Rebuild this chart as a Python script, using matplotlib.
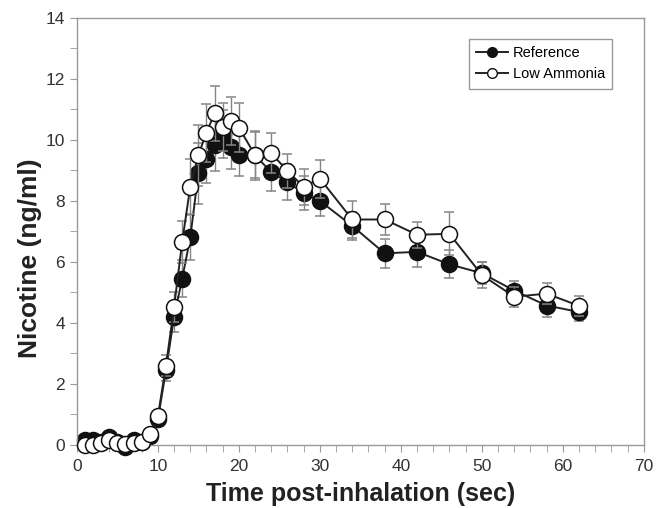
import numpy as np
import matplotlib.pyplot as plt
from matplotlib.lines import Line2D
from matplotlib.ticker import MultipleLocator

# data
time = [1, 2, 3, 4, 5, 6, 7, 8, 9, 10, 11, 12, 13, 14, 15, 16, 17, 18, 19, 20,
        22, 24, 26, 28, 30, 34, 38, 42, 46, 50, 54, 58, 62]

ref_mean = [0.18, 0.17, 0.1, 0.25, 0.1, -0.05, 0.15, 0.1, 0.3, 0.84, 2.45, 4.2, 5.45,
            6.8, 8.9, 9.37, 9.84, 10.19, 9.75, 9.5,
            9.5, 8.93, 8.62, 8.25, 8.0, 7.18, 6.28, 6.33, 5.92, 5.63, 5.06, 4.57, 4.36]
ref_err = [0.05, 0.05, 0.05, 0.05, 0.05, 0.05, 0.05, 0.05, 0.1, 0.15, 0.35, 0.5, 0.6,
           0.75, 1.0, 0.8, 0.85, 0.8, 0.7, 0.7,
           0.75, 0.6, 0.6, 0.55, 0.5, 0.45, 0.47, 0.5, 0.46, 0.36, 0.3, 0.36, 0.28]

low_mean = [0.0, 0.0, 0.08, 0.16, 0.05, 0.03, 0.08, 0.09, 0.36, 0.94, 2.6, 4.52, 6.65,
            8.47, 9.5, 10.24, 10.87, 10.42, 10.62, 10.4,
            9.5, 9.56, 8.98, 8.46, 8.73, 7.39, 7.39, 6.89, 6.92, 5.57, 4.86, 4.96, 4.56]
low_err = [0.05, 0.05, 0.05, 0.05, 0.05, 0.05, 0.05, 0.05, 0.1, 0.15, 0.35, 0.5, 0.7,
           0.9, 1.0, 0.95, 0.9, 0.8, 0.8, 0.8,
           0.8, 0.65, 0.55, 0.6, 0.62, 0.6, 0.5, 0.42, 0.7, 0.42, 0.33, 0.35, 0.33]

plt.rcParams['font.family'] = ['Liberation Sans', 'DejaVu Sans']

fig = plt.figure(figsize=(6.57, 5.08), dpi=100)
ax = fig.add_axes([0.117, 0.124, 0.863, 0.841])

line_kw = dict(color="#222222", lw=1.4, ecolor="#858585", elinewidth=1.0,
               capsize=3.5, capthick=1.0, marker="o", markersize=11.5,
               markeredgecolor="#111111", markeredgewidth=1.1)

for mean, err, face, z in [(ref_mean, ref_err, "#111111", 2),
                           (low_mean, low_err, "white", 3)]:
    cont = ax.errorbar(time, mean, yerr=err, markerfacecolor=face, zorder=z, **line_kw)
    for art in cont.get_children():
        art.set_clip_on(False)

ax.set_xlim(0, 70)
ax.set_ylim(0, 14)
ax.xaxis.set_major_locator(MultipleLocator(10))
ax.xaxis.set_minor_locator(MultipleLocator(2))
ax.yaxis.set_major_locator(MultipleLocator(2))
ax.yaxis.set_minor_locator(MultipleLocator(1))

for side in ax.spines.values():
    side.set_color("#999999")
    side.set_linewidth(1.0)
ax.tick_params(which="both", direction="out", color="#999999", labelcolor="#333333",
               labelsize=12.5, length=5)
ax.tick_params(axis="x", pad=5)

ax.set_xlabel("Time post-inhalation (sec)", fontsize=18, fontweight="bold",
              color="#222222", labelpad=6)
ax.set_ylabel("Nicotine (ng/ml)", fontsize=19, fontweight="bold",
              color="#222222")
ax.yaxis.set_label_coords(-0.062, 0.438)

handles = [Line2D([], [], color="#222222", lw=1.4, marker="o", markersize=7,
                  markerfacecolor="#111111", markeredgecolor="#111111"),
           Line2D([], [], color="#222222", lw=1.4, marker="o", markersize=7,
                  markerfacecolor="white", markeredgecolor="#111111")]
leg = ax.legend(handles, ["Reference", "Low Ammonia"], loc="upper right",
                bbox_to_anchor=(0.944, 0.951), borderaxespad=0, fontsize=10.5,
                handlelength=2.2, fancybox=False, framealpha=1,
                edgecolor="#999999", borderpad=0.5, labelspacing=0.5,
                handletextpad=0.3)
leg.get_frame().set_linewidth(1.0)

plt.savefig("out.png", dpi=100)
plt.close()
